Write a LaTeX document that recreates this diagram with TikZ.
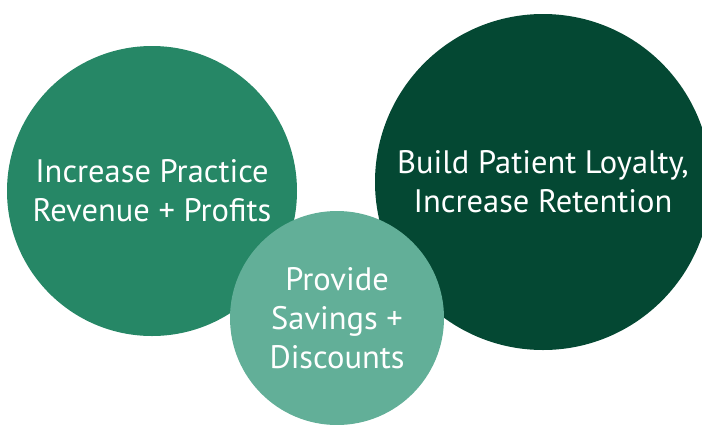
\documentclass[tikz,border=0pt]{standalone}
\usepackage{fontspec}
\setmainfont{PT Sans}
\usetikzlibrary{positioning}

\definecolor{midgreen}{RGB}{38,135,102}
\definecolor{darkgreen}{RGB}{4,72,51}
\definecolor{lightgreen}{RGB}{98,175,152}

\tikzset{
    bubble/.style={circle, inner sep=0pt, text=white, align=center,
        font=\fontsize{32.5}{39}\selectfont},
}

\begin{document}
\begin{tikzpicture}[x=1pt, y=-1pt]
    \useasboundingbox (0,0) rectangle (702,424);
    \clip (0,0) rectangle (702,424);

    \node[bubble, fill=midgreen, minimum size=290pt] (revenue) at (152,191)
        {Increase Practice\\Revenue + Profits};
    \node[bubble, fill=darkgreen, minimum size=336pt] (loyalty) at (543,182)
        {Build Patient Loyalty,\\Increase Retention};
    \node[bubble, fill=lightgreen, minimum size=214pt] (savings) at (337,318)
        {Provide\\Savings +\\Discounts};
\end{tikzpicture}
\end{document}
